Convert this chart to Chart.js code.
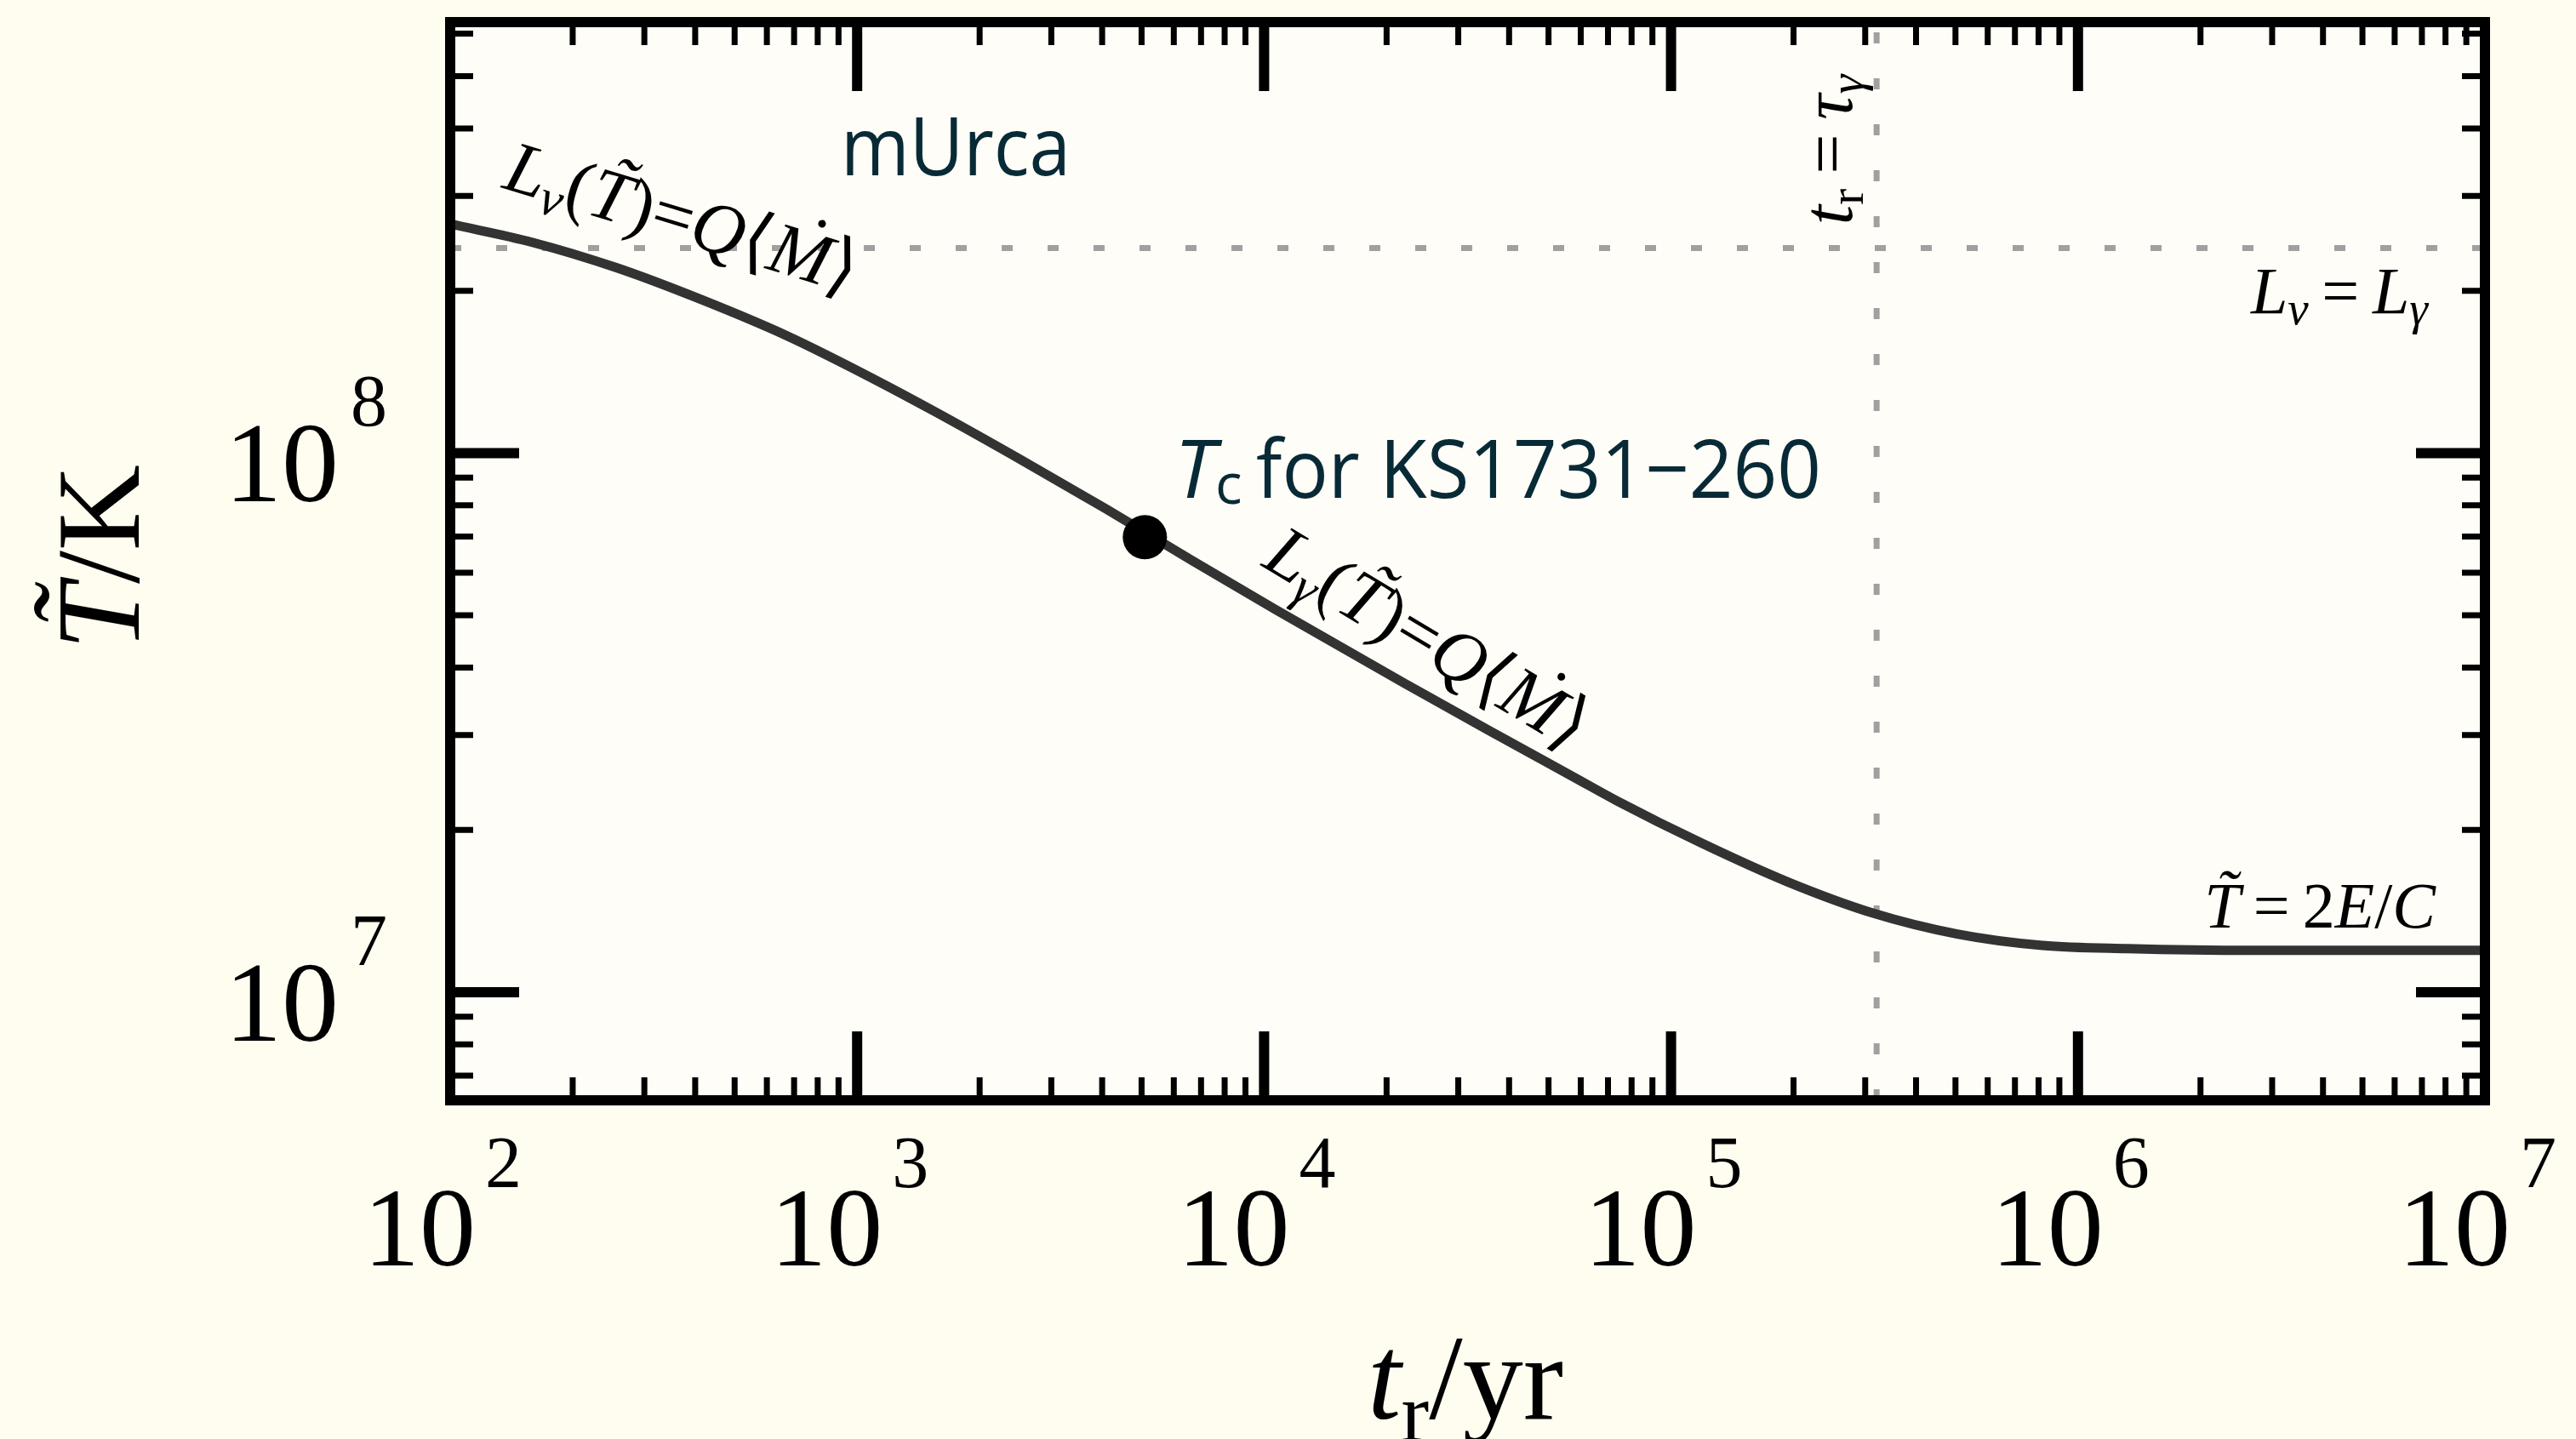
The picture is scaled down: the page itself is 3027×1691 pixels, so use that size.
<!DOCTYPE html>
<html>
<head>
<meta charset="utf-8">
<script src="https://cdn.jsdelivr.net/npm/chart.js@4.4.0/dist/chart.umd.min.js"></script>
<style>
  html, body { margin: 0; padding: 0; background: #fffdf0; }
  #wrap { width: 3027px; height: 1691px; }
</style>
</head>
<body>
<div id="wrap"><canvas id="c" width="3027" height="1691"></canvas></div>
<script>
// t_r in yr, T in K
const years = [100, 159, 257, 416, 673, 1090, 1564, 2531, 4097, 6630, 10730, 22090, 35760, 57880, 73620, 119200, 192900, 312200, 505200, 817800, 1324000, 2726000, 10000000];
const temps = [2.66e8, 2.46e8, 2.205e8, 1.923e8, 1.649e8, 1.376e8, 1.190e8, 9.71e7, 7.87e7, 6.33e7, 5.11e7, 3.744e7, 3.055e7, 2.502e7, 2.264e7, 1.888e7, 1.603e7, 1.403e7, 1.282e7, 1.221e7, 1.204e7, 1.195e7, 1.195e7];

const tcYear = [5094];
const tcTemp = [6.98e7];

const tauGamma = 3.2e5;      // t_r = tau_gamma
const tEqual = 2.4e8;        // L_nu = L_gamma

const xRange = [100, 1e7];
const yRange = [6.3e6, 6.3e8];

const xMajor = [1e2, 1e3, 1e4, 1e5, 1e6, 1e7];
const xMajorExp = ['2', '3', '4', '5', '6', '7'];
const yMajor = [1e7, 1e8];
const yMajorExp = ['7', '8'];

const SERIF = '"Liberation Serif", "DejaVu Serif", serif';
const SANS = '"Open Sans", "Noto Sans", sans-serif';
const INK = '#082a36';

function minorTicks(lo, hi){
  const out = [];
  for(let e = Math.floor(Math.log10(lo)); e <= Math.ceil(Math.log10(hi)); e++){
    for(let k = 2; k <= 9; k++){
      const v = k * Math.pow(10, e);
      if(v > lo && v < hi) out.push(v);
    }
  }
  return out;
}

function run(t, s, o){ return Object.assign({ t, s, it: false, dy: 0 }, o || {}); }
function fnt(r){ return (r.it ? 'italic ' : '') + r.s + 'px ' + (r.fam || SERIF); }

function drawRuns(ctx, runs, x, y, deg, align, shift){
  let w = 0;
  runs.forEach(r => { ctx.font = fnt(r); r.w = ctx.measureText(r.t).width; w += r.w; });
  ctx.save();
  ctx.translate(x, y);
  ctx.rotate(deg * Math.PI / 180);
  ctx.textAlign = 'left';
  ctx.textBaseline = 'alphabetic';
  let cx = align === 'center' ? -w / 2 : (align === 'right' ? -w : 0);
  const by = shift || 0;
  runs.forEach(r => {
    ctx.font = fnt(r);
    ctx.fillText(r.t, cx, by + r.dy);
    if(r.acc){
      ctx.textAlign = 'center';
      ctx.fillText(r.acc, cx + r.w * 0.62, by + r.dy - r.s * 0.2);
      ctx.textAlign = 'left';
    }
    cx += r.w;
  });
  ctx.restore();
}

function squeeze(ctx, text, font, x, y, targetW){
  ctx.font = font;
  const w = ctx.measureText(text).width;
  ctx.save();
  ctx.translate(x, y);
  ctx.scale(targetW / w, 1);
  ctx.textAlign = 'left';
  ctx.fillText(text, 0, 0);
  ctx.restore();
}

function lumRuns(sub, s){
  return [
    run('L', s, { it: true }),
    run(sub, Math.round(s * 0.7), { it: true, dy: Math.round(s * 0.17) }),
    run('(', s),
    run('T', s, { it: true, acc: '\u02DC' }),
    run(')', s),
    run('=', s),
    run('Q', s, { it: true }),
    run('\u27E8', s),
    run('M', s, { it: true, acc: '\u02D9' }),
    run('\u27E9', s)
  ];
}

const decor = {
  id: 'decor',
  beforeDraw(chart){
    const { ctx, chartArea: a } = chart;
    ctx.save();
    ctx.fillStyle = '#fffdf0';
    ctx.fillRect(0, 0, chart.width, chart.height);
    ctx.fillStyle = '#fefdf7';
    ctx.fillRect(a.left, a.top, a.right - a.left, a.bottom - a.top);
    ctx.restore();
  },
  afterDatasetsDraw(chart){
    const { ctx, chartArea: a, scales: { x, y } } = chart;
    ctx.save();

    // frame
    ctx.strokeStyle = '#000';
    ctx.lineWidth = 12;
    ctx.strokeRect(a.left, a.top, a.right - a.left, a.bottom - a.top);

    // ticks, inside on all four sides
    ctx.lineCap = 'butt';
    const tick = (px, len, w, horiz) => {
      ctx.lineWidth = w;
      ctx.beginPath();
      if(horiz){
        ctx.moveTo(px, a.bottom); ctx.lineTo(px, a.bottom - len);
        ctx.moveTo(px, a.top); ctx.lineTo(px, a.top + len);
      } else {
        ctx.moveTo(a.left, px); ctx.lineTo(a.left + len, px);
        ctx.moveTo(a.right, px); ctx.lineTo(a.right - len, px);
      }
      ctx.stroke();
    };
    xMajor.forEach(v => tick(x.getPixelForValue(v), 81, 12, true));
    minorTicks(xRange[0], xRange[1]).forEach(v => tick(x.getPixelForValue(v), 27, 7, true));
    yMajor.forEach(v => tick(y.getPixelForValue(v), 81, 12, false));
    minorTicks(yRange[0], yRange[1]).forEach(v => tick(y.getPixelForValue(v), 27, 7, false));

    // tick labels
    ctx.fillStyle = '#000';
    ctx.textBaseline = 'alphabetic';
    xMajor.forEach((v, i) => {
      const px = x.getPixelForValue(v);
      ctx.textAlign = 'left';
      ctx.font = '132px ' + SERIF;
      ctx.fillText('10', px - 102, a.bottom + 194);
      ctx.font = '86px ' + SERIF;
      ctx.fillText(xMajorExp[i], px + 41, a.bottom + 102);
    });
    yMajor.forEach((v, i) => {
      const py = y.getPixelForValue(v);
      ctx.textAlign = 'right';
      ctx.font = '86px ' + SERIF;
      ctx.fillText(yMajorExp[i], a.left - 74, py - 32);
      ctx.font = '134px ' + SERIF;
      ctx.fillText('10', a.left - 131, py + 57);
    });

    // axis titles
    drawRuns(ctx, [run('T', 140, { it: true, acc: '\u02DC' }), run('/K', 140)], 163, 655, -90, 'center');
    drawRuns(ctx, [run('t', 142, { it: true }), run('r', 98, { dy: 26 }), run('/yr', 142)], 1722, 1667, 0, 'center');

    // curve annotations
    drawRuns(ctx, lumRuns('\u03BD', 86), 800, 262, 17, 'center', 22);
    drawRuns(ctx, lumRuns('\u03B3', 86), 1675, 755, 31, 'center', 22);

    drawRuns(ctx, [
      run('L', 78, { it: true }), run('\u03BD', 55, { it: true, dy: 13 }),
      run('\u2009=\u2009', 78),
      run('L', 78, { it: true }), run('\u03B3', 55, { it: true, dy: 13 })
    ], 2853, 368, 0, 'right');

    drawRuns(ctx, [
      run('T', 76, { it: true, acc: '\u02DC' }),
      run('\u2009=\u2009', 76),
      run('2', 76), run('E', 76, { it: true }), run('/', 76), run('C', 76, { it: true })
    ], 2862, 1090, 0, 'right');

    drawRuns(ctx, [
      run('t', 84, { it: true }), run('r', 58, { dy: 13 }),
      run('\u2009=\u2009', 84),
      run('\u03C4', 84, { it: true }), run('\u03B3', 58, { it: true, dy: 13 })
    ], 2176, 176, -90, 'center');

    // sans labels
    ctx.fillStyle = INK;
    squeeze(ctx, 'mUrca', '96px ' + SANS, 988, 206, 270);
    ctx.font = 'italic 96px ' + SANS;
    ctx.textAlign = 'left';
    ctx.fillText('T', 1380, 585);
    ctx.font = '66px ' + SANS;
    ctx.fillText('c', 1428, 592);
    squeeze(ctx, 'for KS1731\u2212260', '96px ' + SANS, 1476, 585, 664);

    ctx.restore();
  }
};

const ctx = document.getElementById('c').getContext('2d');
new Chart(ctx, {
  type: 'line',
  data: {
    datasets: [
      {
        data: xRange.map(v => ({ x: v, y: tEqual })),
        borderColor: '#a0a0a0', borderWidth: 7, borderDash: [13, 41], borderCapStyle: 'butt',
        pointRadius: 0, order: 4
      },
      {
        data: yRange.map(v => ({ x: tauGamma, y: v })),
        borderColor: '#a0a0a0', borderWidth: 7, borderDash: [13, 41], borderCapStyle: 'butt',
        pointRadius: 0, order: 3
      },
      {
        data: years.map((v, i) => ({ x: v, y: temps[i] })),
        borderColor: '#333333', borderWidth: 11, cubicInterpolationMode: 'monotone',
        pointRadius: 0, order: 2
      },
      {
        data: tcYear.map((v, i) => ({ x: v, y: tcTemp[i] })),
        showLine: false, pointRadius: 26, pointBackgroundColor: '#000', pointBorderWidth: 0,
        order: 1
      }
    ]
  },
  options: {
    responsive: false,
    animation: false,
    devicePixelRatio: 1,
    events: [],
    layout: { padding: { left: 529, right: 107, top: 24, bottom: 398 } },
    plugins: { legend: { display: false }, tooltip: { enabled: false } },
    scales: {
      x: { type: 'logarithmic', min: xRange[0], max: xRange[1], display: false },
      y: { type: 'logarithmic', min: yRange[0], max: yRange[1], display: false }
    }
  },
  plugins: [decor]
});
</script>
</body>
</html>
